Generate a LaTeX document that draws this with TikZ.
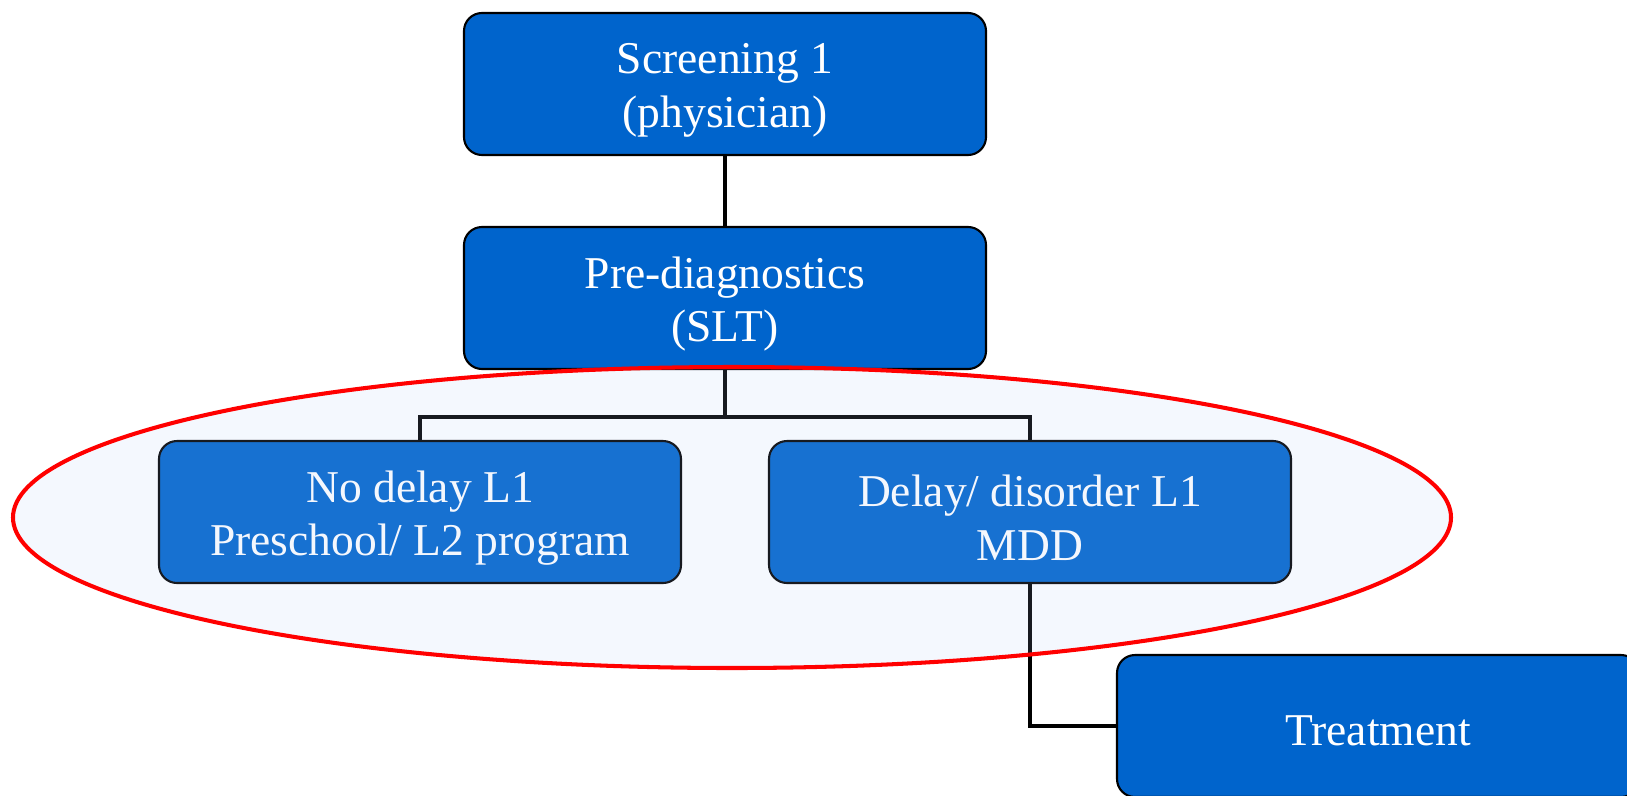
\documentclass[tikz,border=0pt]{standalone}
\usepackage{fontspec}
\setmainfont{Liberation Serif}
\usetikzlibrary{positioning, shapes.geometric}
\definecolor{boxblue}{RGB}{0,100,204}
\definecolor{veilblue}{RGB}{175,200,245}

\begin{document}
\begin{tikzpicture}[node distance = 1.44cm,
BoxStyle/.style={draw=black, fill=boxblue, text=white, line width=1.2pt,
                rounded corners=0.36cm, minimum width=10.44cm, minimum height=2.84cm,
                align=center, font=\fontsize{25.9}{30.5}\selectfont, outer sep=0pt,
                text height=1.94cm},
LinkStyle/.style={draw=black, line width=2.8pt},]
\useasboundingbox (0,0) rectangle (32.54,-15.9);
\node [BoxStyle] (screen) at (14.5,-1.68) {Screening 1\\(physician)};
\node [BoxStyle, below=of screen] (prediag) {Pre-diagnostics\\(SLT)};
\node [BoxStyle, below=of prediag, xshift=-6.1cm] (nodelay) {No delay L1\\Preschool/ L2 program};
\node [BoxStyle, below=of prediag, xshift=6.1cm] (delay) {Delay/ disorder L1\\MDD};
\node [BoxStyle, below=of delay, xshift=6.96cm, text height=0.78cm] (treat) {Treatment};
% connectors
\draw [LinkStyle] (screen) -- (prediag);
\draw [LinkStyle] (prediag.south) -- ++(0,-0.96) -| (nodelay.north);
\draw [LinkStyle] (prediag.south) -- ++(0,-0.96) -| (delay.north);
\draw [LinkStyle] (delay.south) |- (treat.west);
% group
\node [draw=red, line width=2.3pt, fill=veilblue, fill opacity=0.133,
       ellipse, minimum width=28.76cm, minimum height=6.02cm,
       inner sep=0pt] (group) at (14.64,-10.35) {};
\end{tikzpicture}
\end{document}
